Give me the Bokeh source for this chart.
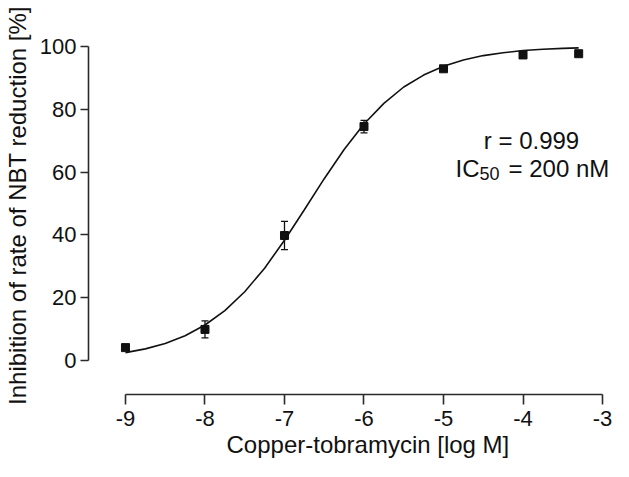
from bokeh.plotting import figure
from bokeh.models import (Range1d, FixedTicker, ColumnDataSource, Whisker, TeeHead, Label, Title)
from bokeh.embed import file_html
from bokeh.resources import INLINE

# ---- data ----
log_conc = [-9, -8, -7, -6, -5, -4, -3.3]
inhibition = [4.1, 9.9, 39.8, 74.5, 92.9, 97.3, 97.7]
sem = [0.5, 2.7, 4.5, 2.0, 0.6, 0.6, 0.6]

curve_x = [-9, -8.75, -8.5, -8.25, -8, -7.75, -7.5, -7.25, -7, -6.75, -6.5, -6.25,
           -6, -5.75, -5.5, -5.25, -5, -4.75, -4.5, -4.25, -4, -3.75, -3.5, -3.3]
curve_y = [2.5, 3.7, 5.4, 7.9, 11.3, 15.9, 21.9, 29.4, 38.3, 48.0, 57.9, 67.2,
           75.3, 81.9, 87.1, 90.9, 93.7, 95.7, 97.1, 98.0, 98.7, 99.1, 99.4, 99.55]

x_ticks = [-9, -8, -7, -6, -5, -4, -3]
x_tick_labels = ["-9", "-8", "-7", "-6", "-5", "-4", "-3"]
y_ticks = [0, 20, 40, 60, 80, 100]

x_title = "Copper-tobramycin [log M]"
y_title = "Inhibition of rate of NBT reduction [%]"

FONT = "Liberation Sans"
INK = "#111111"
AXC = "#2a2a2a"

p = figure(width=613, height=461, output_backend="svg", toolbar_location=None,
           x_range=Range1d(-9.465, -2.862), y_range=Range1d(-10.83, 109.55),
           min_border_left=88, min_border_right=0, min_border_top=16, min_border_bottom=67)
p.outline_line_color = None
p.xgrid.visible = False
p.ygrid.visible = False
p.background_fill_color = "white"
p.border_fill_color = "white"

for ax in (p.xaxis[0], p.yaxis[0]):
    ax.axis_line_color = AXC
    ax.axis_line_width = 1.6
    ax.major_tick_line_color = AXC
    ax.major_tick_line_width = 1.6
    ax.major_tick_in = 0
    ax.minor_tick_line_color = None
    ax.major_label_text_font = FONT
    ax.major_label_text_font_size = "22px"
    ax.major_label_text_color = INK

p.xaxis[0].ticker = FixedTicker(ticks=x_ticks)
p.xaxis[0].bounds = (x_ticks[0], x_ticks[-1])
p.xaxis[0].major_tick_out = 10
p.xaxis[0].major_label_standoff = 6
p.xaxis[0].major_label_overrides = dict(zip(x_ticks, x_tick_labels))

p.yaxis[0].ticker = FixedTicker(ticks=y_ticks)
p.yaxis[0].bounds = (y_ticks[0], y_ticks[-1])
p.yaxis[0].major_tick_out = 8
p.yaxis[0].major_label_standoff = 4
p.yaxis[0].axis_label = y_title
p.yaxis[0].axis_label_standoff = 6
p.yaxis[0].axis_label_text_font = FONT
p.yaxis[0].axis_label_text_font_size = "24px"
p.yaxis[0].axis_label_text_font_style = "normal"
p.yaxis[0].axis_label_text_color = INK

# x title as a side title (offset gives exact horizontal placement)
p.add_layout(Title(text=x_title, align="left", offset=138, standoff=0,
                   text_font=FONT, text_font_size="24px", text_font_style="normal",
                   text_color=INK), "below")

# fitted curve
p.line(curve_x, curve_y, line_color="#111111", line_width=1.6)

# error bars
src = ColumnDataSource(dict(x=log_conc, y=inhibition,
                            upper=[v + e for v, e in zip(inhibition, sem)],
                            lower=[v - e for v, e in zip(inhibition, sem)]))
w = Whisker(source=src, base="x", upper="upper", lower="lower",
            line_color="#111111", line_width=1.3,
            upper_head=TeeHead(size=7, line_color="#111111", line_width=1.3),
            lower_head=TeeHead(size=7, line_color="#111111", line_width=1.3))
p.add_layout(w)

p.scatter("x", "y", source=src, marker="square", size=8,
          fill_color="#111111", line_color="#111111")

# annotation
ax0 = -4.849
p.add_layout(Label(x=ax0, y=70.06, x_offset=76, text="r = 0.999", text_align="center",
                   text_baseline="alphabetic", text_font=FONT,
                   text_font_size="24px", text_color=INK))
p.add_layout(Label(x=ax0, y=61.15, text="IC", text_align="left",
                   text_baseline="alphabetic", text_font=FONT,
                   text_font_size="24px", text_color=INK))
p.add_layout(Label(x=ax0, y=59.55, x_offset=24, text="50", text_align="left",
                   text_baseline="alphabetic", text_font=FONT,
                   text_font_size="18px", text_color=INK))
p.add_layout(Label(x=ax0, y=61.15, x_offset=53, text="= 200 nM", text_align="left",
                   text_baseline="alphabetic", text_font=FONT,
                   text_font_size="24px", text_color=INK))

open("out.html", "w").write(file_html(p, INLINE))
